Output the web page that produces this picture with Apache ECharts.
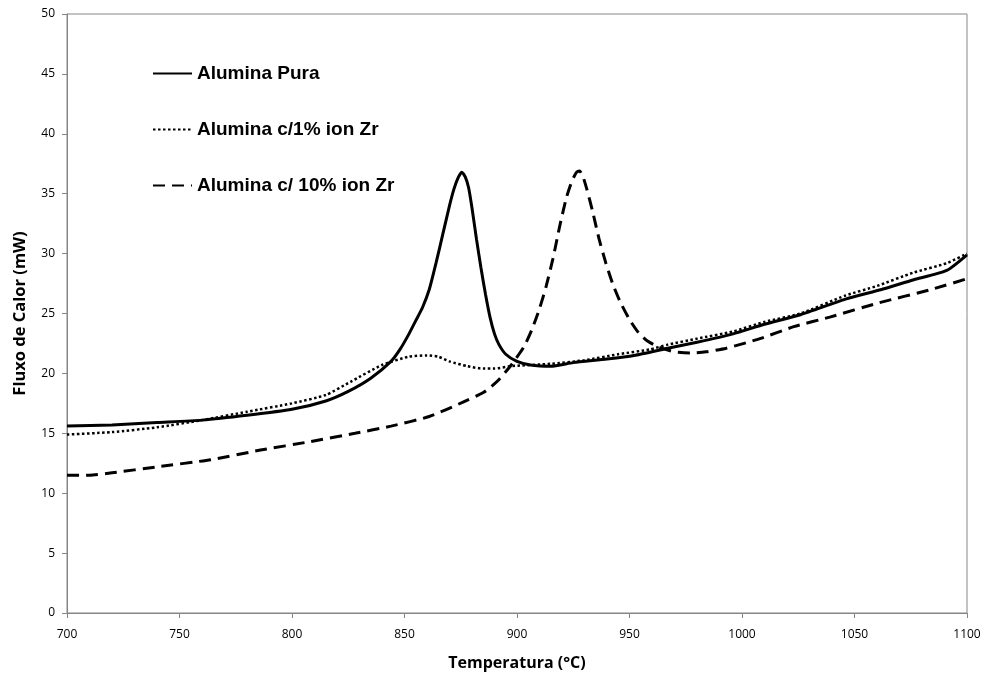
<!DOCTYPE html>
<html>
<head>
<meta charset="utf-8">
<script src="https://cdn.jsdelivr.net/npm/echarts@6/dist/echarts.min.js"></script>
<style>
  html, body { margin: 0; padding: 0; background: #fff; }
  #chart { width: 984px; height: 677px; }
</style>
</head>
<body>
<div id="chart"></div>
<script>
  // Alumina Pura (solid)
  var puraT = [700, 720, 740, 760, 780, 800, 815, 825, 835, 844, 848, 852, 855, 858, 861, 864, 867, 870, 872, 874, 875.5, 877, 878.5, 880, 882, 884, 886, 888, 890, 892, 895, 900, 906, 915, 925, 940, 952, 967, 980, 996, 1010, 1026, 1046, 1062, 1076, 1091, 1100];
  var puraV = [15.6, 15.7, 15.9, 16.1, 16.5, 17.0, 17.7, 18.5, 19.6, 21.0, 22.0, 23.3, 24.4, 25.5, 27.0, 29.2, 31.6, 34.0, 35.4, 36.4, 36.8, 36.4, 35.5, 33.8, 31.2, 28.8, 26.6, 24.7, 23.3, 22.4, 21.6, 21.0, 20.7, 20.6, 20.9, 21.2, 21.5, 22.1, 22.6, 23.3, 24.1, 24.9, 26.2, 27.0, 27.8, 28.6, 29.9];

  // Alumina c/1% ion Zr (dotted)
  var zr1T = [700, 720, 740, 760, 780, 800, 815, 826, 840, 852, 860, 865, 870, 878, 885, 890, 897, 915, 930, 945, 959, 967, 980, 996, 1010, 1026, 1046, 1060, 1076, 1091, 1100];
  var zr1V = [14.9, 15.1, 15.5, 16.1, 16.8, 17.5, 18.2, 19.3, 20.7, 21.4, 21.5, 21.4, 21.0, 20.6, 20.4, 20.4, 20.6, 20.8, 21.1, 21.6, 22.0, 22.4, 22.9, 23.5, 24.3, 25.0, 26.5, 27.3, 28.4, 29.2, 30.0];

  // Alumina c/ 10% ion Zr (dashed)
  var zr10T = [700, 710, 720, 740, 764, 786, 808, 828, 844, 861, 876, 885, 891, 897, 903, 906.5, 910, 913, 916, 919, 922, 924.5, 926.5, 927.8, 929.2, 931, 933.5, 936.5, 939.5, 942.5, 945.8, 950, 954, 958, 963, 970, 977, 984, 993, 1008, 1023, 1039, 1061, 1084, 1100];
  var zr10V = [11.5, 11.5, 11.7, 12.2, 12.8, 13.6, 14.3, 15.0, 15.6, 16.4, 17.6, 18.4, 19.3, 20.6, 22.2, 23.6, 25.4, 27.3, 29.6, 32.3, 34.7, 36.1, 36.8, 36.9, 36.5, 35.4, 33.6, 31.2, 29.2, 27.5, 26.0, 24.5, 23.4, 22.7, 22.2, 21.8, 21.7, 21.8, 22.1, 22.9, 23.9, 24.7, 25.9, 27.0, 27.9];

  var xTicks = [700, 750, 800, 850, 900, 950, 1000, 1050, 1100];
  var yTicks = [0, 5, 10, 15, 20, 25, 30, 35, 40, 45, 50];

  function zip(a, b) {
    return a.map(function (v, i) { return [v, b[i]]; });
  }

  var axisColor = '#868686';
  var labelFont = '"Open Sans", "Liberation Sans", sans-serif';

  var chart = echarts.init(document.getElementById('chart'));
  chart.setOption({
    animation: false,
    grid: {
      left: 67, right: 17, top: 14, bottom: 64,
      show: true, borderColor: axisColor, borderWidth: 1
    },
    legend: {
      orient: 'vertical',
      left: 152,
      top: 64,
      padding: 0,
      itemWidth: 39,
      itemHeight: 20,
      itemGap: 37,
      itemStyle: { opacity: 0 },
      textStyle: {
        fontFamily: '"Liberation Sans", Arial, sans-serif',
        fontWeight: 'bold',
        fontSize: 19,
        color: '#000'
      },
      data: ['Alumina Pura', 'Alumina c/1% ion Zr', 'Alumina c/ 10% ion Zr']
    },
    xAxis: {
      type: 'value',
      min: xTicks[0],
      max: xTicks[xTicks.length - 1],
      interval: 50,
      name: 'Temperatura (°C)',
      nameLocation: 'middle',
      nameGap: 42,
      nameTextStyle: { fontFamily: labelFont, fontWeight: 'bold', fontSize: 16, color: '#000' },
      axisLine: { lineStyle: { color: axisColor } },
      axisTick: { length: 5, lineStyle: { color: axisColor } },
      axisLabel: {
        margin: 16, fontFamily: labelFont, fontSize: 12, color: '#000',
        formatter: function (v) { return String(v); }
      },
      splitLine: { show: false }
    },
    yAxis: {
      type: 'value',
      min: yTicks[0],
      max: yTicks[yTicks.length - 1],
      interval: 5,
      name: 'Fluxo de Calor (mW)',
      nameLocation: 'middle',
      nameGap: 38,
      nameTextStyle: { fontFamily: labelFont, fontWeight: 'bold', fontSize: 16.5, color: '#000' },
      axisLine: { show: true, lineStyle: { color: axisColor } },
      axisTick: { show: true, length: 5, lineStyle: { color: axisColor } },
      axisLabel: { margin: 12, fontFamily: labelFont, fontSize: 12, color: '#000' },
      splitLine: { show: false }
    },
    series: [
      {
        name: 'Alumina Pura',
        type: 'line',
        smooth: 0.2,
        symbol: 'none',
        data: zip(puraT, puraV),
        lineStyle: { color: '#000', width: 3 },
        itemStyle: { color: '#000' }
      },
      {
        name: 'Alumina c/1% ion Zr',
        type: 'line',
        smooth: 0.2,
        symbol: 'none',
        data: zip(zr1T, zr1V),
        lineStyle: { color: '#000', width: 2.5, type: [2.5, 2.5] },
        itemStyle: { color: '#000' }
      },
      {
        name: 'Alumina c/ 10% ion Zr',
        type: 'line',
        smooth: 0.2,
        symbol: 'none',
        data: zip(zr10T, zr10V),
        lineStyle: { color: '#000', width: 3, type: [12, 7] },
        itemStyle: { color: '#000' }
      }
    ]
  });
</script>
</body>
</html>
